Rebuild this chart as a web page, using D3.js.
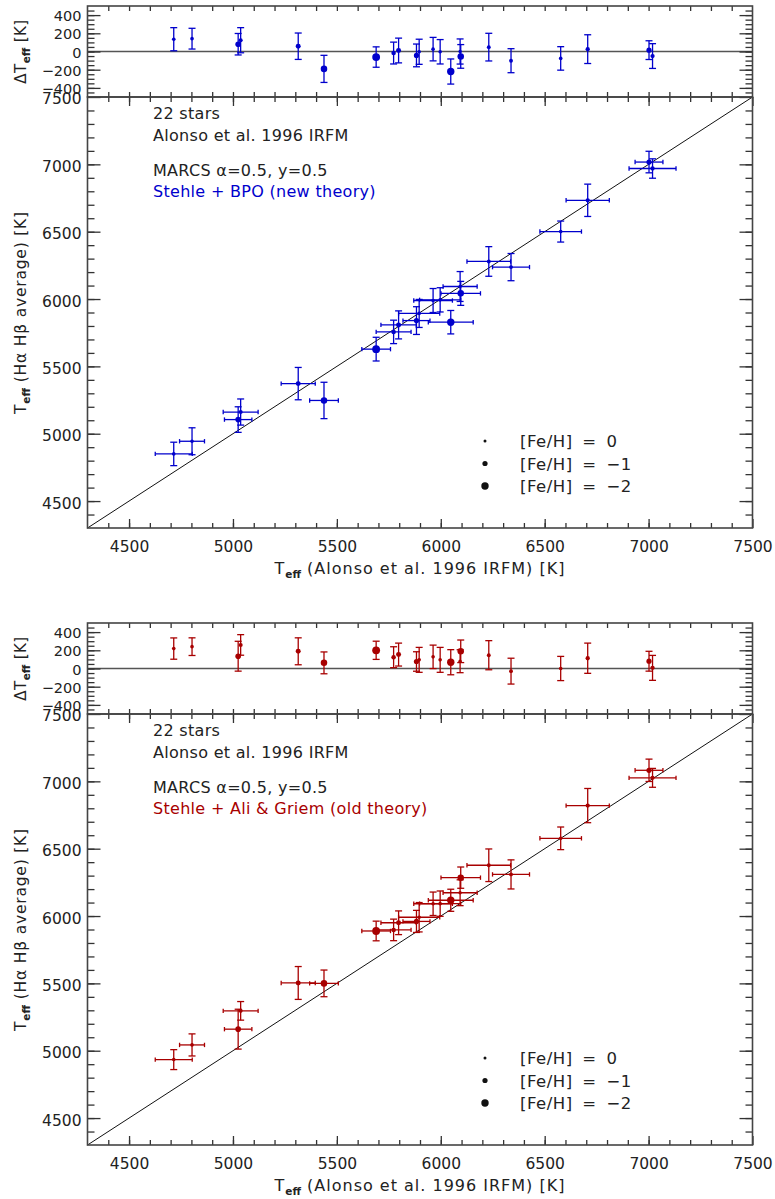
<!DOCTYPE html>
<html lang="en">
<head>
    <meta charset="UTF-8">
    <title>Teff comparison</title>
    <script src="https://cdn.jsdelivr.net/npm/d3@7"></script>
    <style>
        body { margin: 0; background: #fff; }
        text { font-family: "DejaVu Sans", sans-serif; fill: #222; }
    </style>
</head>
<body>
<svg></svg>
<script>
    var width = 775;
    var height = 1199;

    // Alonso et al. 1996 IRFM temperatures, errors and metallicity (common to both panels)
    var teffIRFM = [4715, 4803, 5025, 5037, 5314, 5438, 5689, 5773, 5797, 5883, 5896,
                    5963, 5997, 6048, 6093, 6096, 6231, 6338, 6577, 6707, 7002, 7019];
    var errIRFM  = [89, 60, 66, 84, 82, 69, 69, 84, 85, 65, 99,
                    93, 99, 108, 82, 95, 105, 89, 100, 104, 67, 113];
    var feh      = [-0.3, -0.3, -1.2, -0.5, -0.9, -1.6, -2.2, -0.7, -0.9, -1.0, -0.3,
                    -0.3, -0.3, -2.0, -0.2, -1.6, -0.4, -0.4, -0.3, -0.6, -1.0, -0.6];

    // new theory (Stehle + BPO): Halpha/Hbeta minus IRFM
    var deltaNew    = [135, 141, 80, 124, 58, -191, -61, -17, 11, -43, -3,
                       26, -3, -220, 0, -54, 48, -101, -76, 26, 15, -50];
    var deltaErrNew = [127, 114, 118, 138, 145, 149, 112, 120, 136, 125, 138,
                       129, 134, 138, 138, 130, 152, 132, 129, 158, 103, 136];
    var errHNew     = [87, 100, 95, 97, 120, 135, 88, 87, 104, 103, 104,
                       89, 90, 87, 111, 89, 110, 101, 78, 120, 80, 72];

    // old theory (Stehle + Ali & Griem)
    var deltaOld    = [219, 240, 135, 259, 189, 62, 200, 124, 153, 77, 95,
                       128, 95, 69, 80, 189, 146, -29, 0, 113, 80, 7];
    var deltaErrOld = [117, 97, 164, 113, 148, 120, 100, 115, 126, 107, 137,
                       129, 137, 138, 126, 124, 160, 142, 133, 166, 109, 137];
    var errHOld     = [74, 82, 148, 69, 122, 99, 73, 80, 88, 82, 109,
                       87, 94, 82, 96, 79, 121, 108, 84, 127, 83, 70];

    var xTicks = [4500, 5000, 5500, 6000, 6500, 7000, 7500];
    var yTicks = [4500, 5000, 5500, 6000, 6500, 7000, 7500];
    var resTicks = [-400, -200, 0, 200, 400];
    var fehLegend = [0, -1, -2];

    var svg = d3.select('svg')
                .attr('width', width)
                .attr('height', height);

    var left = 87.5, right = 752.5;
    var x = d3.scaleLinear().domain([4300, 7500]).range([left, right]);
    var rad = d3.scaleLinear().domain([0, -2]).range([1.5, 3.7]);

    function fmt(d) { return d < 0 ? '\u2212' + Math.abs(d) : '' + d; }

    function styleAxis(g, size) {
        g.select('.domain').remove();
        g.selectAll('line').attr('stroke', '#333').attr('stroke-width', 1.3);
        g.selectAll('text').style('font-size', size + 'px').attr('fill', '#222');
    }

    function teffLabel(sel, main, tail) {
        sel.append('tspan').text(main);
        sel.append('tspan').text('eff').attr('dy', 4).style('font-size', '10.5px')
            .style('font-weight', 'bold').style('letter-spacing', '0px');
        sel.append('tspan').text(tail).attr('dy', -4);
    }

    function drawPanel(top, delta, deltaErr, errH, color, theory) {
        var resTop = top, resBot = top + 91, mainTop = resBot, mainBot = resBot + 431;
        var yRes = d3.scaleLinear().domain([-500, 500]).range([resBot, resTop]);
        var y = d3.scaleLinear().domain([4300, 7500]).range([mainBot, mainTop]);

        var stars = teffIRFM.map(function (t, i) {
            return { x: t, ex: errIRFM[i], d: delta[i], ed: deltaErr[i],
                     y: t + delta[i], ey: errH[i], r: rad(feh[i]) };
        });

        // ---------- residual panel ----------
        var g = svg.append('g');
        g.append('line')
            .attr('x1', left).attr('x2', right)
            .attr('y1', yRes(0)).attr('y2', yRes(0))
            .attr('stroke', '#555').attr('stroke-width', 1.5);

        g.append('g').attr('transform', 'translate(' + left + ',0)')
            .call(d3.axisLeft(yRes).tickValues(resTicks).tickSizeInner(-13).tickSizeOuter(0).tickPadding(6).tickFormat(fmt))
            .call(styleAxis, 14.5)
            .selectAll('text').attr('dy', '0.38em');
        g.append('g').attr('transform', 'translate(' + left + ',0)')
            .call(d3.axisLeft(yRes).tickValues(d3.range(-450, 500, 50)).tickSizeInner(-7).tickSizeOuter(0).tickFormat(''))
            .call(styleAxis, 14.5);
        g.append('g').attr('transform', 'translate(' + right + ',0)')
            .call(d3.axisRight(yRes).tickValues(resTicks).tickSizeInner(-13).tickSizeOuter(0).tickFormat(''))
            .call(styleAxis, 14.5);
        g.append('g').attr('transform', 'translate(' + right + ',0)')
            .call(d3.axisRight(yRes).tickValues(d3.range(-450, 500, 50)).tickSizeInner(-7).tickSizeOuter(0).tickFormat(''))
            .call(styleAxis, 14.5);
        [resTop, resBot].forEach(function (yy, k) {
            var ax = k === 0 ? d3.axisTop : d3.axisBottom;
            g.append('g').attr('transform', 'translate(0,' + yy + ')')
                .call(ax(x).tickValues(d3.range(4400, 7500, 100)).tickSizeInner(-5).tickSizeOuter(0).tickFormat(''))
                .call(styleAxis, 14.5);
        });

        var rb = g.append('g').attr('stroke', color).attr('stroke-width', 1.3);
        stars.forEach(function (s) {
            var cx = x(s.x);
            rb.append('line').attr('x1', cx).attr('x2', cx).attr('y1', yRes(s.d - s.ed)).attr('y2', yRes(s.d + s.ed));
            [s.d - s.ed, s.d + s.ed].forEach(function (v) {
                rb.append('line').attr('x1', cx - 3.5).attr('x2', cx + 3.5).attr('y1', yRes(v)).attr('y2', yRes(v));
            });
        });
        g.selectAll('circle.res').data(stars).enter().append('circle')
            .attr('cx', function (s) { return x(s.x); })
            .attr('cy', function (s) { return yRes(s.d); })
            .attr('r', function (s) { return s.r; })
            .attr('fill', color);

        g.append('rect').attr('x', left).attr('y', resTop)
            .attr('width', right - left).attr('height', resBot - resTop)
            .attr('fill', 'none').attr('stroke', '#444').attr('stroke-width', 1.6);

        g.append('text')
            .attr('transform', 'translate(26,' + ((resTop + resBot) / 2) + ') rotate(-90)')
            .attr('text-anchor', 'middle').style('font-size', '15px').style('letter-spacing', '0.5px')
            .call(teffLabel, '\u0394T', ' [K]');

        // ---------- main panel ----------
        var m = svg.append('g');
        m.append('line')
            .attr('x1', x(4300)).attr('y1', y(4300))
            .attr('x2', x(7500)).attr('y2', y(7500))
            .attr('stroke', '#111').attr('stroke-width', 1);

        m.append('g').attr('transform', 'translate(0,' + mainBot + ')')
            .call(d3.axisBottom(x).tickValues(xTicks).tickSizeInner(-9).tickSizeOuter(0).tickPadding(13).tickFormat(d3.format('d')))
            .call(styleAxis, 15.5);
        m.append('g').attr('transform', 'translate(0,' + mainBot + ')')
            .call(d3.axisBottom(x).tickValues(d3.range(4400, 7500, 100)).tickSizeInner(-5).tickSizeOuter(0).tickFormat(''))
            .call(styleAxis, 15.5);
        m.append('g').attr('transform', 'translate(0,' + mainTop + ')')
            .call(d3.axisTop(x).tickValues(xTicks).tickSizeInner(-9).tickSizeOuter(0).tickFormat(''))
            .call(styleAxis, 15.5);
        m.append('g').attr('transform', 'translate(0,' + mainTop + ')')
            .call(d3.axisTop(x).tickValues(d3.range(4400, 7500, 100)).tickSizeInner(-5).tickSizeOuter(0).tickFormat(''))
            .call(styleAxis, 15.5);

        m.append('g').attr('transform', 'translate(' + left + ',0)')
            .call(d3.axisLeft(y).tickValues(yTicks).tickSizeInner(-13).tickSizeOuter(0).tickPadding(6).tickFormat(d3.format('d')))
            .call(styleAxis, 15.5)
            .selectAll('text').attr('dy', '0.45em');
        m.append('g').attr('transform', 'translate(' + left + ',0)')
            .call(d3.axisLeft(y).tickValues(d3.range(4400, 7500, 100)).tickSizeInner(-7).tickSizeOuter(0).tickFormat(''))
            .call(styleAxis, 15.5);
        m.append('g').attr('transform', 'translate(' + right + ',0)')
            .call(d3.axisRight(y).tickValues(yTicks).tickSizeInner(-13).tickSizeOuter(0).tickFormat(''))
            .call(styleAxis, 15.5);
        m.append('g').attr('transform', 'translate(' + right + ',0)')
            .call(d3.axisRight(y).tickValues(d3.range(4400, 7500, 100)).tickSizeInner(-7).tickSizeOuter(0).tickFormat(''))
            .call(styleAxis, 15.5);

        var eb = m.append('g').attr('stroke', color).attr('stroke-width', 1.3);
        stars.forEach(function (s) {
            var cx = x(s.x), cy = y(s.y);
            eb.append('line').attr('x1', cx).attr('x2', cx).attr('y1', y(s.y - s.ey)).attr('y2', y(s.y + s.ey));
            [s.y - s.ey, s.y + s.ey].forEach(function (v) {
                eb.append('line').attr('x1', cx - 3.5).attr('x2', cx + 3.5).attr('y1', y(v)).attr('y2', y(v));
            });
            eb.append('line').attr('x1', x(s.x - s.ex)).attr('x2', x(s.x + s.ex)).attr('y1', cy).attr('y2', cy);
            [s.x - s.ex, s.x + s.ex].forEach(function (v) {
                eb.append('line').attr('x1', x(v)).attr('x2', x(v)).attr('y1', cy - 2.2).attr('y2', cy + 2.2);
            });
        });
        m.selectAll('circle.pt').data(stars).enter().append('circle')
            .attr('cx', function (s) { return x(s.x); })
            .attr('cy', function (s) { return y(s.y); })
            .attr('r', function (s) { return s.r; })
            .attr('fill', color);

        m.append('rect').attr('x', left).attr('y', mainTop)
            .attr('width', right - left).attr('height', mainBot - mainTop)
            .attr('fill', 'none').attr('stroke', '#444').attr('stroke-width', 1.6);

        // annotations
        var notes = [['22 stars', 22, '#222'], ['Alonso et al. 1996 IRFM', 44, '#222'],
                     ['MARCS \u03b1=0.5, y=0.5', 79, '#222'], [theory, 100, color]];
        notes.forEach(function (n) {
            m.append('text').attr('x', 153).attr('y', mainTop + n[1])
                .style('font-size', '16px').style('letter-spacing', '0.3px')
                .style('fill', n[2]).text(n[0]);
        });

        // legend
        fehLegend.forEach(function (f, i) {
            var yy = mainTop + 344 + i * 22.5;
            m.append('circle').attr('cx', 485).attr('cy', yy).attr('r', rad(f)).attr('fill', '#111');
            m.append('text').attr('x', 520).attr('y', yy + 6).style('font-size', '16.5px')
                .style('word-spacing', '4px').style('letter-spacing', '0.5px')
                .text('[Fe/H] = ' + fmt(f));
        });

        // axis titles
        m.append('text').attr('x', (left + right) / 2).attr('y', mainBot + 46)
            .attr('text-anchor', 'middle').style('font-size', '16px').style('letter-spacing', '1px')
            .call(teffLabel, 'T', ' (Alonso et al. 1996 IRFM) [K]');
        m.append('text')
            .attr('transform', 'translate(26,' + ((mainTop + mainBot) / 2) + ') rotate(-90)')
            .attr('text-anchor', 'middle').style('font-size', '15.5px').style('letter-spacing', '0.8px')
            .call(teffLabel, 'T', ' (H\u03b1  H\u03b2 average) [K]');
    }

    drawPanel(6, deltaNew, deltaErrNew, errHNew, '#0000cc', 'Stehle + BPO (new theory)');
    drawPanel(623, deltaOld, deltaErrOld, errHOld, '#a80000', 'Stehle + Ali & Griem (old theory)');
</script>
</body>
</html>
